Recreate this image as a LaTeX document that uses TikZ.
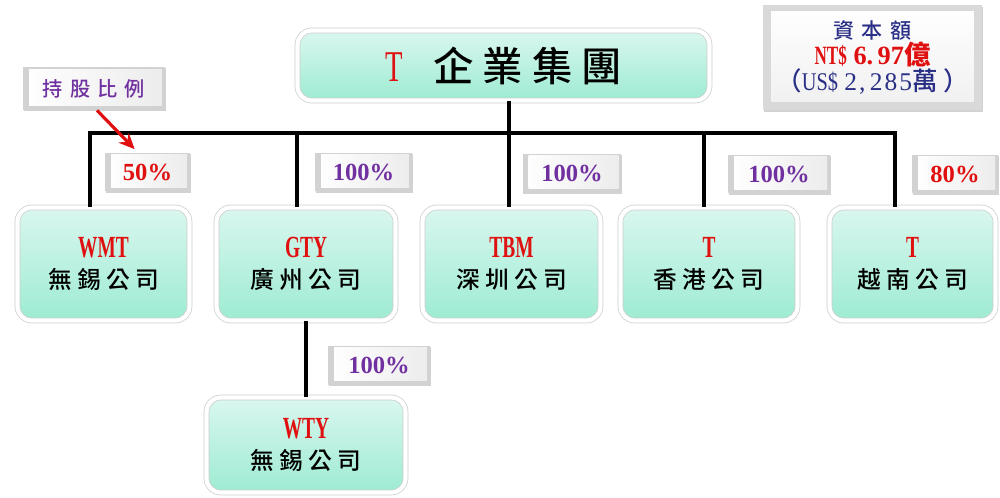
\documentclass[tikz,border=0pt]{standalone}
\usepackage{fontspec}
\usepackage{graphicx}
\setmainfont{Liberation Serif}
\newfontfamily\cjk[LetterSpace=22,UprightFont={* Medium}]{Noto Sans CJK TC}
\newfontfamily\cjkw[LetterSpace=35,UprightFont={* Medium}]{Noto Sans CJK TC}
\newfontfamily\lsp[LetterSpace=8]{Liberation Serif}
\usetikzlibrary{shadows,arrows.meta}
\definecolor{tred}{HTML}{E01010}
\definecolor{tpurple}{HTML}{7030A0}
\definecolor{tnavy}{HTML}{2A2F86}
\definecolor{mintT}{HTML}{DAF7EF}
\definecolor{mintB}{HTML}{9DEBD2}
\tikzset{
  co/.style={rounded corners=8pt, draw=gray!40, line width=0.4pt, double=white, double distance=2.4pt,
    top color=mintT, bottom color=mintB, align=center, inner sep=0pt,
    minimum height=2.26cm,
    drop shadow={shadow xshift=0.6pt, shadow yshift=-1pt, opacity=0.4, fill=gray!80},
    font=\fontsize{14}{18}\selectfont},
  bevel/.style={inner sep=0pt, fill=gray!35,
    path picture={\fill[left color=white, right color=gray!15]
      ([shift={(0.12cm,-0.04cm)}]path picture bounding box.north west) rectangle
      ([shift={(-0.06cm,0.08cm)}]path picture bounding box.south east);},
    drop shadow={shadow xshift=0.5pt, shadow yshift=-0.8pt, opacity=0.35, fill=gray}},
  pct/.style={bevel, minimum height=0.78cm, font=\bfseries\fontsize{14}{14}\selectfont},
  conn/.style={line width=2.2pt, black}
}
\newcommand{\nm}[1]{{\color{tred}\bfseries\fontsize{17.5}{18}\selectfont\scalebox{0.63}[1]{#1}}}
\newcommand{\cn}[1]{{\cjk\fontsize{13.5}{18}\selectfont #1}}
\begin{document}
\begin{tikzpicture}[x=0.02cm,y=-0.02cm]
\useasboundingbox[fill=white] (0,0) rectangle (1000,497);

% top box
\node[co, minimum width=8.24cm, minimum height=1.4cm] (top) at (503.5,65.5)
  {{\color{tred}\fontsize{25}{25}\selectfont\scalebox{0.65}[1]{T}}\hspace{0.62cm}{\cjk\fontsize{23}{25}\selectfont 企業集團}};

% capital box
\node[inner sep=0pt, fill=gray!30, minimum width=4.38cm, minimum height=2.1cm, align=center,
  path picture={\fill[top color=white, bottom color=gray!12]
      ([shift={(0.16cm,-0.12cm)}]path picture bounding box.north west) rectangle
      ([shift={(-0.16cm,0.16cm)}]path picture bounding box.south east);},
  drop shadow={shadow xshift=0.6pt, shadow yshift=-0.9pt, opacity=0.35, fill=gray}] (cap) at (872.5,57.5)
  {{\color{tnavy}\cjkw\fontsize{12}{17.5}\selectfont 資本額}\\
   {\color{tred}\bfseries\fontsize{15}{17.5}\selectfont\scalebox{0.65}[1]{NT\$}\ 6.\,97{\cjk 億}}\\
   {\color{tnavy}\fontsize{14.5}{17.5}\selectfont{\cjk （}\scalebox{0.8}[1]{US\$}\ {\lsp 2,\,285}{\cjk 萬）}}};

% holding ratio label
\node[bevel, minimum width=2.84cm, minimum height=0.86cm] (ratio) at (94,88.5)
  {\color{tpurple}\cjkw\fontsize{11.5}{12}\selectfont 持股比例};

% companies
\node[co, minimum width=3.44cm] (wmt) at (103.5,264) {\nm{WMT}\\\cn{無錫公司}};
\node[co, minimum width=3.58cm] (gty) at (306,264) {\nm{GTY}\\\cn{廣州公司}};
\node[co, minimum width=3.56cm] (tbm) at (511.5,264) {\nm{TBM}\\\cn{深圳公司}};
\node[co, minimum width=3.54cm] (hk) at (709,264) {\nm{T}\\\cn{香港公司}};
\node[co, minimum width=3.32cm] (vn) at (912.5,264) {\nm{T}\\\cn{越南公司}};
\node[co, minimum width=3.98cm, minimum height=1.9cm] (wty) at (306,445) {\nm{WTY}\\\cn{無錫公司}};

% percentages
\node[pct, minimum width=1.7cm, text=tred] (p1) at (147.5,172) {50\%};
\node[pct, minimum width=1.94cm, text=tpurple] (p2) at (363.5,172) {100\%};
\node[pct, minimum width=1.98cm, text=tpurple] (p3) at (572,173) {100\%};
\node[pct, minimum width=2.04cm, text=tpurple] (p4) at (779,174) {100\%};
\node[pct, minimum width=1.72cm, text=tred] (p5) at (955,174) {80\%};
\node[pct, minimum width=2.04cm, text=tpurple] (p6) at (379,365) {100\%};

% bus
\coordinate (b1) at (90,133);
\coordinate (b2) at (297,133);
\coordinate (b3) at (509,133);
\coordinate (b4) at (704,133);
\coordinate (b5) at (895,133);
\draw[conn] (b1 |- wmt.north) -- (b1) -- (b5) -- (b5 |- vn.north);
\draw[conn] (top.south -| b3) -- (b3) -- (b3 |- tbm.north);
\draw[conn] (b2) -- (b2 |- gty.north);
\draw[conn] (b4) -- (b4 |- hk.north);
\draw[conn] (gty.south) -- (wty.north);

% arrow
\draw[tred, line width=1.8pt, -{Stealth[length=9pt,width=8pt]}] ([xshift=0.06cm]ratio.south) -- ([shift={(0.6cm,0.06cm)}]p1.north west);
\end{tikzpicture}
\end{document}
